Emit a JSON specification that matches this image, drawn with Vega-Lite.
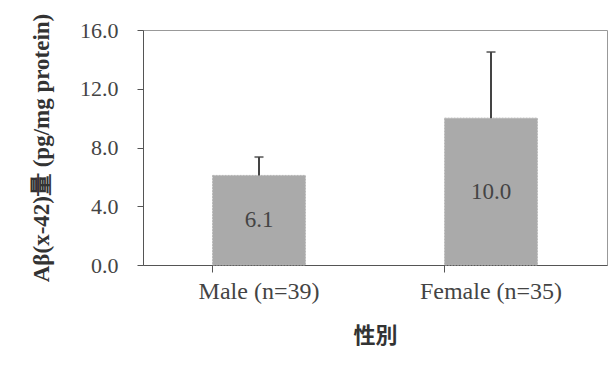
{
  "$schema": "https://vega.github.io/schema/vega-lite/v6.json",
  "autosize": {"type": "none"},
  "width": 464,
  "height": 235,
  "padding": {"left": 143, "top": 30, "right": 9, "bottom": 110},
  "background": "white",
  "config": {
    "view": {"stroke": "#999999", "strokeWidth": 1},
    "font": "Liberation Serif"
  },
  "data": {
    "values": [
      {"sex": "Male (n=39)", "mean": 6.1, "upper": 7.35},
      {"sex": "Female (n=35)", "mean": 10.0, "upper": 14.5}
    ]
  },
  "encoding": {
    "x": {
      "field": "sex",
      "type": "nominal",
      "sort": null,
      "scale": {"paddingInner": 0.6, "paddingOuter": 0.3},
      "axis": {
        "title": "性別",
        "titleFont": "Noto Sans CJK JP",
        "titleFontSize": 22,
        "titleFontWeight": "bold",
        "titleColor": "#333333",
        "titlePadding": 22,
        "labelAngle": 0,
        "labelFontSize": 24,
        "labelColor": "#444444",
        "labelPadding": 7,
        "bandPosition": 0,
        "tickSize": 7,
        "tickColor": "#555555",
        "domainColor": "#555555"
      }
    }
  },
  "layer": [
    {
      "mark": {"type": "bar", "color": "#aaaaaa", "stroke": "#b5b5b5", "strokeDash": [2, 1], "strokeWidth": 1},
      "encoding": {
        "y": {
          "field": "mean",
          "type": "quantitative",
          "scale": {"domain": [0, 16], "nice": false},
          "axis": {
            "title": "Aβ(x-42)量 (pg/mg protein)",
            "titleFont": "Liberation Serif",
            "titleFontSize": 23,
            "titleFontWeight": "bold",
            "titleColor": "#333333",
            "titlePadding": 26,
            "values": [0, 2, 4, 6, 8, 10, 12, 14, 16],
            "format": ".1f",
            "labelOverlap": false,
            "labelFontSize": 22,
            "labelColor": "#444444",
            "labelPadding": 19,
            "tickSize": 6,
            "tickColor": "#555555",
            "domainColor": "#555555",
            "grid": false
          }
        }
      }
    },
    {
      "mark": {"type": "rule", "color": "#444444", "strokeWidth": 2},
      "encoding": {
        "y": {"field": "mean", "type": "quantitative"},
        "y2": {"field": "upper"}
      }
    },
    {
      "mark": {"type": "tick", "color": "#444444", "thickness": 2, "size": 9, "orient": "horizontal"},
      "encoding": {
        "y": {"field": "upper", "type": "quantitative"}
      }
    },
    {
      "transform": [{"calculate": "datum.mean / 2", "as": "mid"}],
      "mark": {"type": "text", "fontSize": 23, "color": "#444444", "baseline": "middle"},
      "encoding": {
        "y": {"field": "mid", "type": "quantitative"},
        "text": {"field": "mean", "type": "quantitative", "format": ".1f"}
      }
    }
  ]
}
